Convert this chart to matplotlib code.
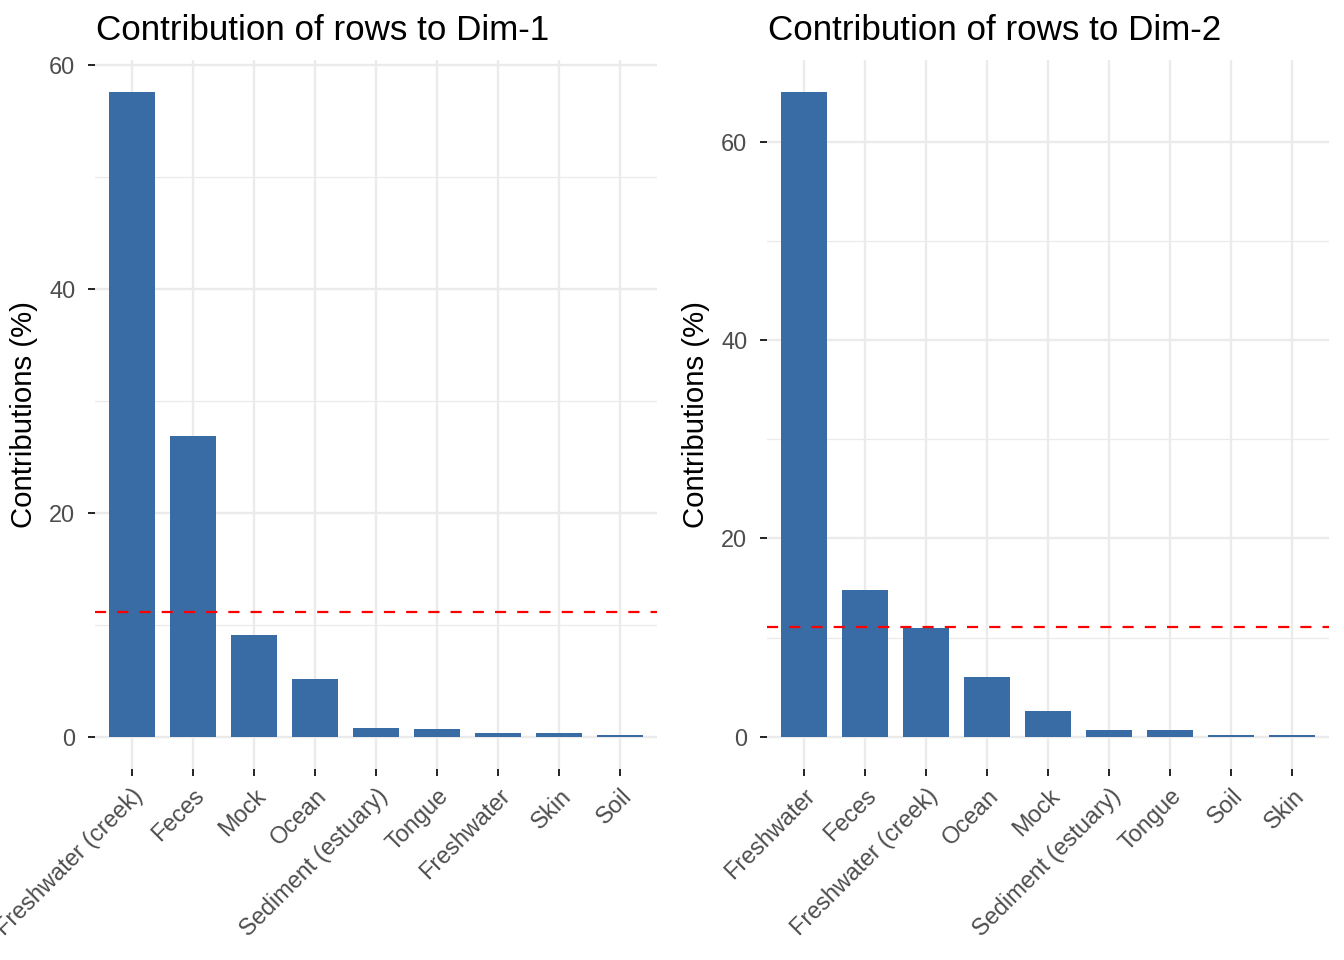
import matplotlib
matplotlib.use("Agg")
import matplotlib.pyplot as plt
import numpy as np

plt.rcParams['font.family'] = ['Liberation Sans', 'DejaVu Sans']

dim1_labels = ["Freshwater (creek)", "Feces", "Mock", "Ocean", "Sediment (estuary)",
               "Tongue", "Freshwater", "Skin", "Soil"]
dim1_values = [57.6, 26.9, 9.1, 5.2, 0.8, 0.68, 0.38, 0.33, 0.15]

dim2_labels = ["Freshwater", "Feces", "Freshwater (creek)", "Ocean", "Mock",
               "Sediment (estuary)", "Tongue", "Soil", "Skin"]
dim2_values = [65.0, 14.8, 10.93, 6.05, 2.62, 0.68, 0.68, 0.2, 0.2]

titles = ["Contribution of rows to Dim-1", "Contribution of rows to Dim-2"]
ref_line = 100 / 9
y_ticks = [0, 20, 40, 60]
y_minor = [10, 30, 50]

W, H = 1344, 960
fig = plt.figure(figsize=(W / 100, H / 100), dpi=100)

bar_color = "#396CA5"
grid_color = "#EBEBEB"

panels = [(95, dim1_labels, dim1_values, titles[0]),
          (767, dim2_labels, dim2_values, titles[1])]

for x0, labels, values, title in panels:
    left = x0 / W
    width = 562 / W
    bottom = (H - 769) / H
    top = (H - 60) / H
    ax = fig.add_axes([left, bottom, width, top - bottom])
    x = np.arange(len(labels))
    vmax = max(values)
    ax.set_xlim(-0.6, len(labels) - 1 + 0.6)
    ax.set_ylim(-0.05 * vmax, 1.05 * vmax)

    for yv in y_minor:
        ax.axhline(yv, color=grid_color, lw=0.9, zorder=0)
    for yv in y_ticks:
        ax.axhline(yv, color=grid_color, lw=1.7, zorder=0)
    for xv in x:
        ax.axvline(xv, color=grid_color, lw=1.7, zorder=0)

    ax.bar(x, values, width=0.75, color=bar_color, zorder=2)
    ax.axhline(ref_line, color="red", lw=1.6, linestyle=(0, (5.0, 5.0)), zorder=3)

    for s in ax.spines.values():
        s.set_visible(False)

    ax.set_yticks(y_ticks)
    ax.set_yticklabels([str(v) for v in y_ticks])
    ax.set_xticks(x)
    ax.set_xticklabels(labels, rotation=45, ha='right', va='top', rotation_mode='anchor')
    ax.tick_params(axis='both', length=5.2, width=1.4, color='#222222',
                   labelcolor='#4D4D4D', labelsize=16.9)
    ax.tick_params(axis='y', pad=9)
    ax.tick_params(axis='x', pad=6)
    ax.set_ylabel("Contributions (%)", fontsize=21.2, color='black')
    ax.yaxis.set_label_coords(-57 / 562, 0.5)

    fig.text(x0 / W + 1 / W, 1 - 40 / H, title, fontsize=25.2, color='black',
             ha='left', va='baseline')

fig.savefig("out.png", dpi=100, facecolor='white')
